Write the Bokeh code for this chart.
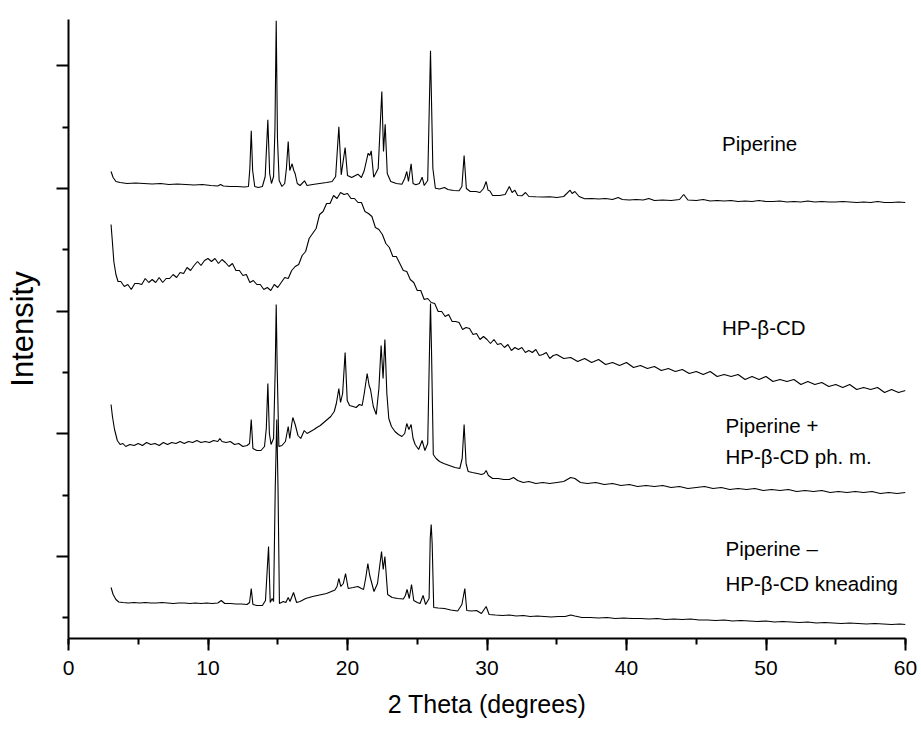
from bokeh.plotting import figure
from bokeh.models import Range1d, SingleIntervalTicker, FixedTicker, ColumnDataSource, LabelSet
from bokeh.core.properties import value
from bokeh.embed import file_html
from bokeh.resources import INLINE

# ---- data: (2 theta in degrees, stacked intensity in arbitrary units) ----
piperine = [
    (3.05, 467), (3.2, 461), (3.4, 457), (3.7, 456), (4.2, 455), (4.8, 455.5), (5.4, 455), (6.0, 454.5),
    (6.6, 455), (7.2, 454), (7.8, 454.5), (8.4, 454), (9.0, 453.5), (9.6, 454), (10.2, 453), (10.7, 452.5),
    (10.9, 454), (11.1, 452.5), (11.6, 452), (12.1, 452), (12.6, 451.5), (12.9, 452), (13.0, 470),
    (13.1, 507.7), (13.2, 468), (13.35, 452), (13.6, 451), (13.9, 452), (14.1, 462), (14.29, 518.7),
    (14.42, 465), (14.55, 455), (14.7, 462), (14.8, 510), (14.89, 617.7), (14.98, 500), (15.1, 458),
    (15.3, 452), (15.5, 455), (15.62, 470), (15.75, 497), (15.86, 468), (16.03, 474.7), (16.15, 468),
    (16.25, 464.7), (16.4, 455), (16.6, 453), (16.92, 457.7), (17.1, 453), (17.5, 454), (18.0, 455),
    (18.5, 456), (18.9, 457), (19.15, 462), (19.38, 511.7), (19.55, 463.7), (19.83, 491), (20.0, 463),
    (20.3, 461), (20.74, 464.3), (21.0, 461), (21.2, 468), (21.48, 485.3), (21.6, 483), (21.7, 487.7),
    (21.88, 461.3), (22.2, 470), (22.46, 547), (22.58, 487), (22.7, 514.3), (22.85, 465), (23.1, 457),
    (23.5, 455), (23.9, 454.3), (24.1, 460), (24.25, 467), (24.37, 457), (24.56, 474.7), (24.7, 455),
    (24.9, 453.7), (25.15, 455), (25.35, 461.3), (25.5, 453), (25.75, 458), (25.95, 587.7), (26.12, 470),
    (26.3, 450.3), (26.6, 449.5), (26.95, 451), (27.2, 449), (27.6, 448), (28.0, 447.7), (28.2, 452),
    (28.36, 483), (28.52, 450), (28.8, 447), (29.2, 447), (29.5, 446), (29.75, 450), (29.94, 457),
    (30.08, 448), (30.2, 447.7), (30.4, 443), (30.9, 443), (31.3, 444), (31.6, 452), (31.8, 446),
    (32.0, 448.3), (32.2, 443), (32.5, 442.7), (32.76, 446), (33.0, 442), (33.5, 441.7), (34.0, 441.5),
    (34.5, 441.7), (35.0, 441), (35.5, 442), (35.96, 448.3), (36.1, 445), (36.3, 447), (36.6, 442),
    (37.0, 439.7), (37.5, 440), (38.0, 439.5), (38.5, 440), (39.0, 439), (39.4, 441), (39.7, 439),
    (40.2, 438.5), (40.7, 439), (41.2, 438.5), (41.6, 440), (42.0, 438), (42.6, 438.5), (43.2, 438),
    (43.8, 439), (44.1, 444), (44.4, 438.5), (45.0, 438), (45.5, 439), (46.0, 437.5), (46.5, 438),
    (47.0, 437.5), (47.5, 438), (48.0, 437), (48.5, 437.5), (49.0, 437), (49.5, 438), (50.0, 437),
    (50.5, 437), (51.0, 437.5), (51.5, 436.5), (52.0, 437), (52.5, 436.5), (53.0, 437.5), (53.5, 436.5),
    (54.0, 437), (54.5, 436.5), (55.0, 436.5), (55.5, 437), (56.0, 436.5), (56.5, 436), (57.0, 436.5),
    (57.5, 436), (58.0, 437), (58.5, 436), (59.0, 436), (59.5, 436.5), (60.0, 436),
]

hpbcd = [
    (3.05, 414), (3.15, 396), (3.25, 377), (3.4, 364), (3.55, 357), (3.75, 357), (4.0, 352), (4.25, 354),
    (4.5, 349), (4.75, 355), (5.0, 355), (5.25, 354), (5.5, 360), (5.75, 356), (6.0, 359), (6.25, 356),
    (6.5, 361), (6.75, 356), (7.0, 360), (7.25, 360), (7.5, 364), (7.75, 361), (8.0, 366), (8.25, 365),
    (8.5, 371), (8.75, 368), (9.0, 373), (9.25, 377), (9.5, 373), (9.75, 378), (10.0, 380), (10.25, 377),
    (10.5, 380), (10.75, 375), (11.0, 379), (11.25, 376), (11.5, 372), (11.75, 375), (12.0, 368),
    (12.25, 368), (12.5, 363), (12.75, 364), (13.0, 356), (13.25, 358), (13.5, 354), (13.75, 354),
    (14.0, 349), (14.25, 351), (14.5, 348), (14.75, 354), (15.0, 351), (15.25, 356), (15.5, 361),
    (15.75, 360), (16.0, 368), (16.25, 372), (16.5, 374), (16.75, 383), (17.0, 387), (17.25, 400),
    (17.5, 405), (17.75, 410), (18.0, 424), (18.25, 427), (18.5, 435), (18.75, 435), (19.0, 443),
    (19.25, 440), (19.5, 446), (19.75, 444), (20.0, 445), (20.25, 440), (20.5, 440), (20.75, 436),
    (21.0, 436), (21.25, 427), (21.5, 425), (21.75, 422), (22.0, 411), (22.25, 409), (22.5, 404),
    (22.75, 395), (23.0, 391), (23.25, 382), (23.5, 382), (23.75, 375), (24.0, 368), (24.25, 367),
    (24.5, 359), (24.75, 356), (25.0, 348), (25.25, 348), (25.5, 339), (25.75, 340), (26.0, 336),
    (26.25, 335), (26.5, 327), (26.75, 327), (27.0, 322), (27.25, 324), (27.5, 317), (27.75, 317),
    (28.0, 316), (28.25, 309), (28.5, 311), (28.75, 310), (29.0, 304), (29.25, 305), (29.5, 299),
    (29.75, 302), (30.0, 299), (30.25, 295), (30.5, 299), (30.75, 294), (31.0, 295), (31.25, 291),
    (31.5, 294), (31.75, 288), (32.0, 291), (32.25, 289), (32.5, 291), (32.75, 286), (33.0, 288),
    (33.25, 286), (33.5, 289), (33.75, 283), (34.0, 284), (34.25, 286), (34.5, 280), (34.75, 283),
    (35.0, 284), (35.5, 280), (36.0, 281), (36.5, 277), (37.0, 280), (37.5, 276), (38.0, 279),
    (38.5, 274), (39.0, 276), (39.5, 273), (40.0, 276), (40.5, 271), (41.0, 273), (41.5, 270),
    (42.0, 272), (42.5, 268), (43.0, 270), (43.5, 267), (44.0, 269), (44.5, 265), (45.0, 267),
    (45.5, 264), (46.0, 267), (46.5, 262), (47.0, 264), (47.5, 262), (48.0, 264), (48.5, 259),
    (49.0, 262), (49.5, 259), (50.0, 262), (50.5, 257), (51.0, 259), (51.5, 257), (52.0, 259),
    (52.5, 254), (53.0, 257), (53.5, 254), (54.0, 256), (54.5, 252), (55.0, 254), (55.5, 251),
    (56.0, 254), (56.5, 249), (57.0, 251), (57.5, 249), (58.0, 251), (58.5, 246), (59.0, 249),
    (59.5, 246), (60.0, 248),
]

physical_mixture = [
    (3.05, 234), (3.15, 222), (3.3, 209), (3.5, 198), (3.7, 194), (3.9, 195), (4.1, 192), (4.4, 194),
    (4.7, 193), (5.0, 195), (5.3, 193), (5.6, 196), (5.9, 194), (6.2, 195), (6.5, 193), (6.8, 196),
    (7.1, 194), (7.4, 196), (7.7, 195), (8.0, 197), (8.3, 195), (8.6, 197), (8.9, 196), (9.2, 198),
    (9.5, 196), (9.8, 197), (10.1, 196), (10.4, 198), (10.7, 197), (10.85, 200), (11.0, 197),
    (11.3, 196), (11.6, 197), (11.9, 194), (12.2, 195), (12.5, 192), (12.8, 193), (12.98, 195),
    (13.1, 219), (13.22, 190), (13.5, 188), (13.8, 188), (14.05, 192), (14.18, 210), (14.29, 255),
    (14.4, 205), (14.52, 194), (14.7, 200), (14.82, 270), (14.89, 334), (14.96, 270), (15.08, 192),
    (15.3, 193), (15.55, 197), (15.75, 212), (15.86, 200), (16.0, 214), (16.08, 221), (16.25, 214),
    (16.45, 203), (16.65, 200), (16.9, 208), (17.1, 205), (17.35, 207), (17.6, 209), (17.8, 211),
    (18.05, 213), (18.3, 216), (18.55, 219), (18.8, 222), (19.05, 227), (19.2, 235), (19.38, 250),
    (19.5, 236), (19.65, 245), (19.83, 286), (19.98, 238), (20.15, 233), (20.4, 232), (20.62, 231),
    (20.85, 234), (21.05, 233), (21.2, 245), (21.41, 265), (21.55, 253), (21.65, 249), (21.85, 232),
    (22.06, 224), (22.25, 250), (22.41, 293), (22.55, 260), (22.68, 299), (22.82, 245), (22.96, 220),
    (23.15, 212), (23.4, 207), (23.65, 204), (23.9, 202), (24.1, 205), (24.25, 215), (24.4, 209),
    (24.56, 214), (24.7, 200), (24.85, 194), (25.1, 189), (25.35, 198), (25.55, 188), (25.75, 195),
    (25.88, 290), (25.95, 335), (26.02, 290), (26.15, 184), (26.35, 180), (26.6, 177), (26.9, 175),
    (27.3, 173), (27.7, 171), (28.05, 170), (28.22, 180), (28.36, 214), (28.5, 175), (28.65, 167),
    (28.95, 166), (29.3, 165), (29.6, 164), (29.8, 165), (29.94, 168), (30.1, 163), (30.4, 160),
    (30.8, 160), (31.2, 159), (31.6, 159), (31.9, 161), (32.2, 158), (32.6, 156), (33.0, 157),
    (33.5, 155), (34.0, 156), (34.5, 155), (35.0, 156), (35.5, 157), (36.0, 161), (36.3, 160),
    (36.7, 156), (37.2, 155), (37.8, 156), (38.4, 154), (39.0, 155), (39.6, 153), (40.2, 154),
    (40.8, 152), (41.4, 153), (42.0, 152), (42.6, 153), (43.2, 151), (43.8, 152), (44.4, 150),
    (45.0, 151), (45.6, 152), (46.2, 150), (46.8, 151), (47.4, 149), (48.0, 150), (48.6, 149),
    (49.2, 150), (49.8, 148), (50.4, 149), (51.0, 148), (51.6, 149), (52.2, 147), (52.8, 148),
    (53.4, 147), (54.0, 148), (54.6, 146), (55.2, 147), (55.8, 146), (56.4, 147), (57.0, 146),
    (57.6, 147), (58.2, 145), (58.8, 146), (59.4, 145), (60.0, 146),
]

kneading = [
    (3.05, 51), (3.2, 44), (3.4, 39), (3.6, 36.5), (3.9, 36), (4.3, 35.5), (4.7, 36), (5.1, 35.5),
    (5.5, 36), (5.9, 35.5), (6.3, 35.5), (6.7, 36), (7.1, 35.5), (7.5, 35), (7.9, 35.5), (8.3, 35.5),
    (8.7, 35), (9.1, 35.5), (9.5, 35), (9.9, 35.5), (10.3, 35), (10.7, 35.5), (10.95, 38), (11.2, 35),
    (11.6, 35), (12.0, 34.5), (12.4, 34.5), (12.8, 34), (12.98, 36), (13.1, 50), (13.22, 34),
    (13.5, 33), (13.9, 33), (14.12, 38), (14.34, 92), (14.46, 36), (14.6, 40), (14.7, 37), (14.82, 150),
    (14.93, 219), (15.02, 150), (15.12, 35), (15.4, 37), (15.58, 36), (15.75, 41), (15.88, 37),
    (16.13, 46), (16.35, 36), (16.6, 37), (17.0, 40), (17.5, 42), (18.0, 43.5), (18.5, 45), (19.1, 48.5),
    (19.25, 52), (19.38, 60), (19.52, 52), (19.7, 55), (19.86, 65), (20.05, 50), (20.4, 51),
    (20.74, 52), (21.0, 50), (21.15, 49), (21.3, 60), (21.46, 75), (21.58, 64), (21.65, 60), (21.9, 47),
    (22.15, 55), (22.44, 87), (22.56, 69), (22.68, 82), (22.88, 44), (23.2, 41), (23.6, 40), (24.0, 39.5),
    (24.15, 43), (24.27, 49), (24.43, 40), (24.59, 54), (24.75, 38), (25.0, 36), (25.2, 35), (25.42, 43),
    (25.6, 34), (25.85, 40), (25.93, 100), (26.0, 114), (26.07, 95), (26.18, 31), (26.5, 30.5),
    (26.95, 30), (27.4, 28.5), (27.9, 27.5), (28.2, 34), (28.41, 50), (28.55, 28), (28.9, 27.5),
    (29.25, 28), (29.6, 25), (29.94, 32), (30.15, 24), (30.6, 23.5), (31.1, 23), (31.6, 23.5),
    (32.1, 22.5), (32.6, 23), (33.1, 22), (33.6, 22.5), (34.1, 22), (34.6, 21.5), (35.1, 22), (35.6, 22),
    (36.0, 23.5), (36.3, 22.5), (36.8, 21), (37.4, 21), (38.0, 20.5), (38.6, 21), (39.2, 20),
    (39.8, 20.5), (40.4, 20), (41.0, 20), (41.6, 19.5), (42.2, 20), (42.8, 19), (43.4, 19.5), (44.0, 19),
    (44.6, 19.5), (45.2, 18.5), (45.8, 18.5), (46.4, 18), (47.0, 18.5), (47.6, 17.5), (48.2, 18),
    (48.8, 17.5), (49.4, 17), (50.0, 17.5), (50.6, 16.5), (51.2, 17), (51.8, 16.5), (52.4, 16),
    (53.0, 16.5), (53.6, 15.5), (54.2, 16), (54.8, 15.5), (55.4, 15), (56.0, 15.5), (56.6, 15),
    (57.2, 14.5), (57.8, 15), (58.4, 14.5), (59.0, 14), (59.6, 14.5), (60.0, 14),
]

label_texts = ["Piperine", "HP-\u03b2-CD", "Piperine +", "HP-\u03b2-CD ph. m.", "Piperine \u2013", "HP-\u03b2-CD kneading"]
label_x = [46.85, 46.85, 47.1, 47.1, 47.1, 47.1]
label_y = [495, 311, 213, 182, 90, 55]

x_ticks_major = 10
y_major_ticks = [82.2, 204.8, 327.4, 450.0, 572.6]
y_minor_ticks = [21.0, 143.5, 266.1, 388.7, 511.3]

# ---- figure ----
p = figure(width=917, height=724, output_backend="svg", toolbar_location=None,
           x_range=Range1d(0, 60), y_range=Range1d(0, 619),
           min_border_left=68, min_border_right=12, min_border_top=19, min_border_bottom=86)
p.outline_line_color = None
p.xgrid.visible = False
p.ygrid.visible = False
p.background_fill_color = "white"
p.border_fill_color = "white"

for series in (piperine, hpbcd, physical_mixture, kneading):
    xs, ys = zip(*series)
    p.line(list(xs), list(ys), line_color="black", line_width=1.1)

src = ColumnDataSource(dict(x=label_x, y=label_y, t=label_texts))
labels = LabelSet(x="x", y="y", text="t", source=src, text_font=value("Liberation Sans"),
                  text_font_size=value("20.5px"), text_baseline="middle", text_align="left",
                  text_color="black")
p.add_layout(labels)

# x axis
xa = p.xaxis[0]
xa.ticker = SingleIntervalTicker(interval=x_ticks_major, num_minor_ticks=2)
xa.axis_label = "2 Theta (degrees)"
xa.axis_label_text_font = "Liberation Sans"
xa.axis_label_text_font_size = "25px"
xa.axis_label_text_font_style = "normal"
xa.axis_label_standoff = 12
xa.major_label_text_font = "Liberation Sans"
xa.major_label_text_font_size = "21px"
xa.major_label_standoff = 10
xa.major_label_text_color = "black"

# y axis (no tick labels in the reference)
ya = p.yaxis[0]
ya.ticker = FixedTicker(ticks=y_major_ticks, minor_ticks=y_minor_ticks)
ya.major_label_text_color = None
ya.major_label_text_font_size = "1px"
ya.major_label_standoff = 0
ya.axis_label = "Intensity"
ya.axis_label_text_font = "Liberation Sans"
ya.axis_label_text_font_size = "31px"
ya.axis_label_text_font_style = "normal"
ya.axis_label_standoff = 17

for ax in (xa, ya):
    ax.axis_line_width = 2
    ax.axis_line_color = "black"
    ax.major_tick_line_width = 2
    ax.minor_tick_line_width = 2
    ax.major_tick_out = 12
    ax.major_tick_in = 0
    ax.minor_tick_out = 6
    ax.minor_tick_in = 0
    ax.axis_label_text_color = "black"

open("out.html", "w").write(file_html(p, INLINE))
